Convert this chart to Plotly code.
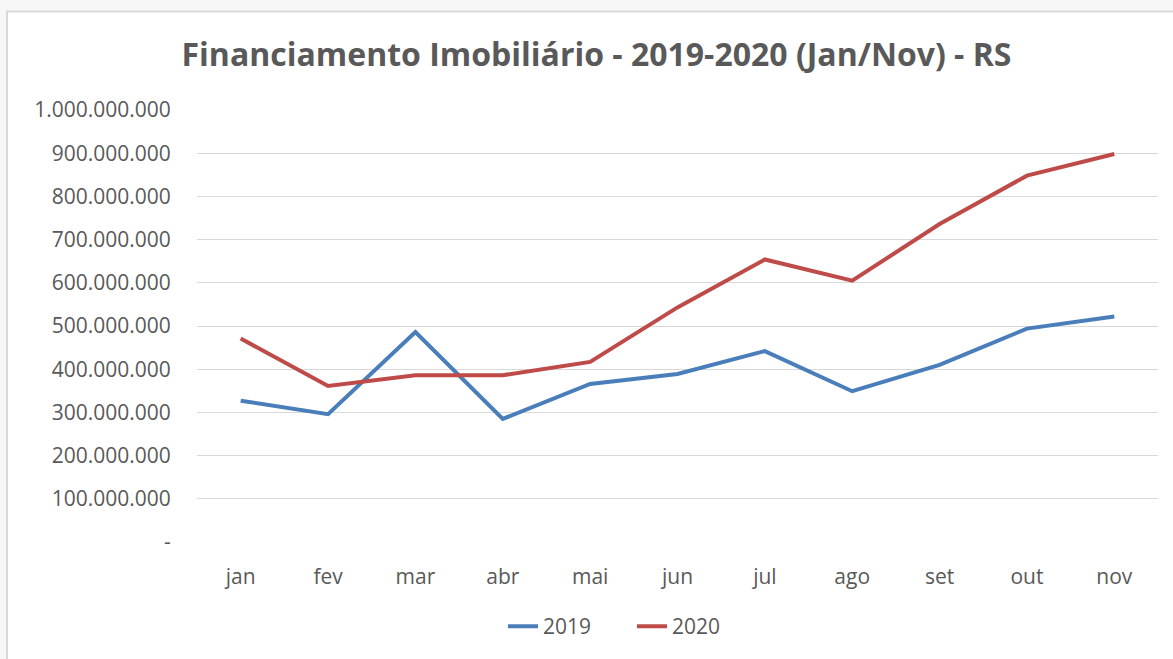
import plotly.graph_objects as go

months = ["jan", "fev", "mar", "abr", "mai", "jun", "jul", "ago", "set", "out", "nov"]
values_2019 = [327e6, 296e6, 486e6, 285e6, 366e6, 389e6, 442e6, 349e6, 410e6, 494e6, 522e6]
values_2020 = [471e6, 361e6, 386e6, 386e6, 417e6, 543e6, 654e6, 605e6, 736e6, 848e6, 898e6]
series_names = ["2019", "2020"]
tick_vals = [0, 1e8, 2e8, 3e8, 4e8, 5e8, 6e8, 7e8, 8e8, 9e8, 1e9]
tick_text = ["-", "100.000.000", "200.000.000", "300.000.000", "400.000.000",
             "500.000.000", "600.000.000", "700.000.000", "800.000.000",
             "900.000.000", "1.000.000.000"]
title_text = "Financiamento Imobiliário - 2019-2020 (Jan/Nov) - RS"

W, H = 1173, 659
L, R, T, B = 197, 15, 110, 115
pw, ph = W - L - R, H - T - B

def px_x(x):
    return (x - L) / pw

def px_y(y):
    return (H - B - y) / ph

fig = go.Figure()
fig.add_trace(go.Scatter(x=months, y=values_2019, name=series_names[0], mode="lines",
                         line=dict(color="#4a7ebb", width=4)))
fig.add_trace(go.Scatter(x=months, y=values_2020, name=series_names[1], mode="lines",
                         line=dict(color="#be4b48", width=4)))

fig.add_shape(type="rect", xref="paper", yref="paper", layer="below",
              x0=px_x(7), x1=px_x(W + 10), y0=px_y(H + 10), y1=px_y(11),
              fillcolor="white", line=dict(color="#d9d9d9", width=2))

fig.update_layout(
    width=W, height=H,
    margin=dict(l=L, r=R, t=T, b=B),
    paper_bgcolor="#f7f7f7",
    plot_bgcolor="white",
    title=dict(text="<b>" + title_text + "</b>", x=596.5 / W, xref="container", xanchor="center",
               y=1 - 55 / H, yref="container", yanchor="middle",
               font=dict(family="Open Sans, sans-serif", size=32, color="#595959")),
    font=dict(family="Open Sans, sans-serif", size=21, color="#595959"),
    xaxis=dict(range=[-0.5, 10.5], showgrid=False, showline=False, zeroline=False,
               ticks="outside", ticklen=0,
               ticklabelstandoff=16, tickfont=dict(size=21, color="#595959")),
    yaxis=dict(range=[0, 1e9], tickvals=tick_vals, ticktext=tick_text, showgrid=True,
               gridcolor="#d9d9d9", gridwidth=1, zeroline=False, showline=False,
               ticks="outside", ticklen=0, ticklabelstandoff=21,
               tickfont=dict(size=21, color="#595959")),
    showlegend=True,
    legend=dict(orientation="h", x=px_x(503), xanchor="left", y=px_y(629), yanchor="middle",
                bgcolor="rgba(0,0,0,0)", font=dict(size=21, color="#595959"),
                entrywidth=84, entrywidthmode="pixels"),
)

fig.write_html("out.html", config={"displayModeBar": False},
               post_script="document.body.style.margin='0';document.body.style.overflow='hidden';")
